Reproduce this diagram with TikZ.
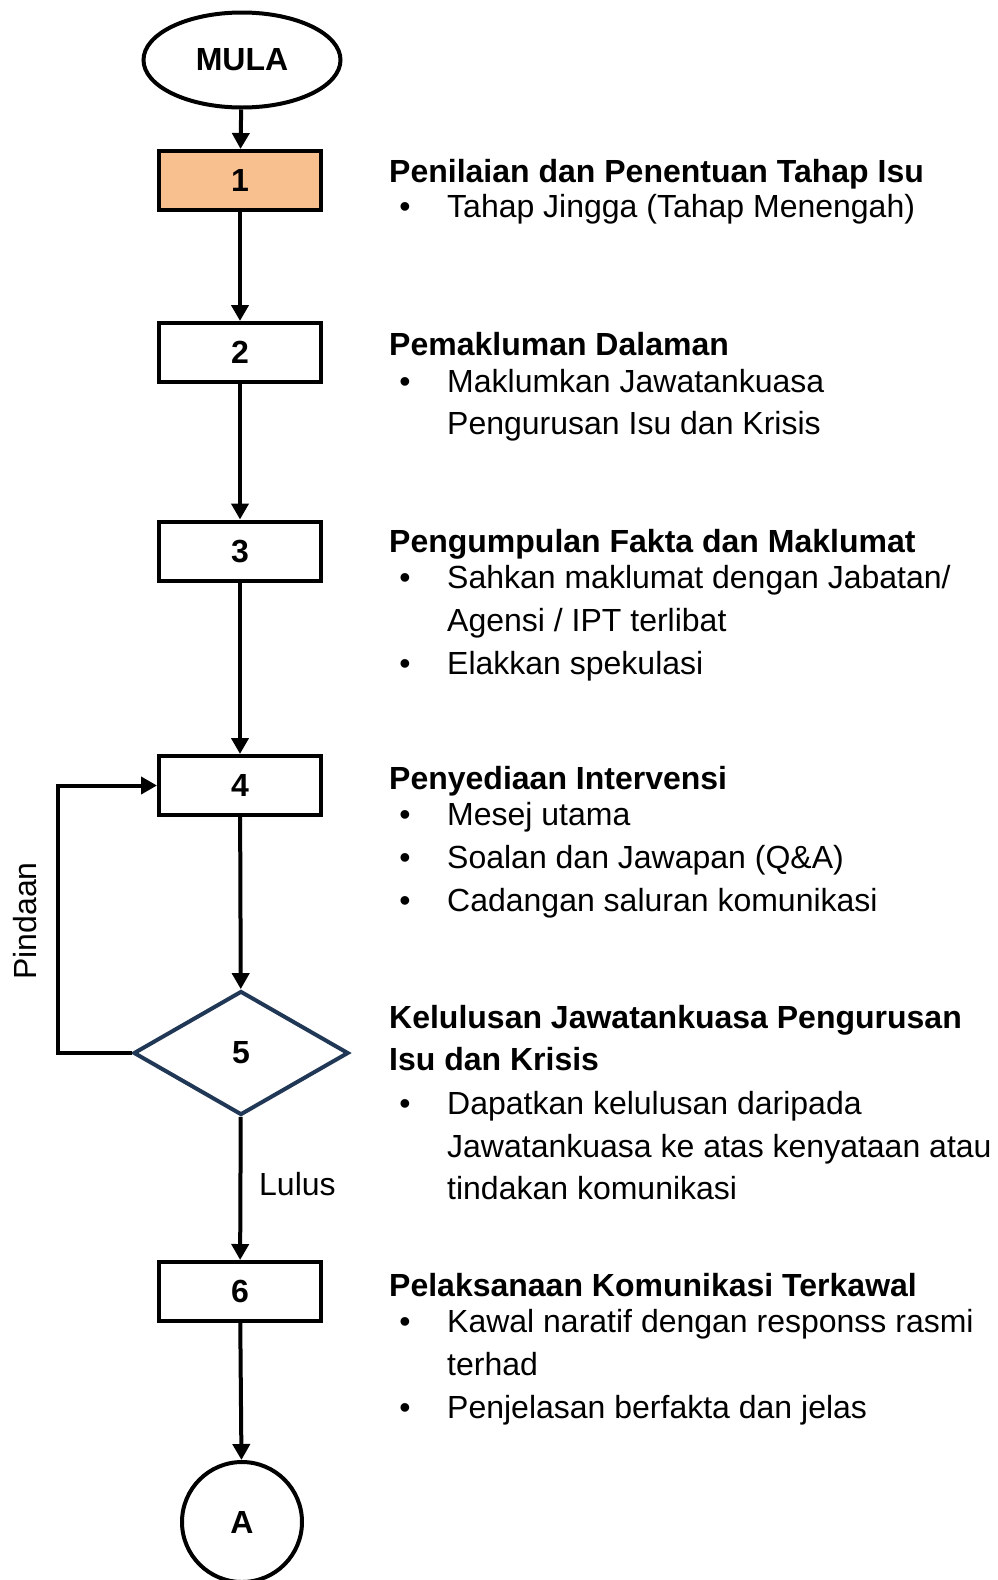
\documentclass[tikz,border=0pt]{standalone}
\usepackage{fontspec}
\setmainfont{Liberation Sans}
\usetikzlibrary{shapes.geometric,arrows.meta}
\definecolor{peach}{RGB}{248,192,143}
\definecolor{navy}{RGB}{32,56,86}
\tikzset{
  base/.style={font=\fontsize{32}{38}\selectfont},
  stepbox/.style={base,draw=black,line width=4pt,minimum width=162pt,minimum height=59pt,inner sep=0pt,font=\fontsize{32}{38}\selectfont\bfseries},
  decbox/.style={base,draw=navy,line width=4pt,shape=diamond,minimum width=215pt,minimum height=124pt,inner sep=0pt,font=\fontsize{32}{38}\selectfont\bfseries},
  term/.style={draw=black,line width=4pt,shape=ellipse,minimum width=197pt,minimum height=95pt,inner sep=0pt,font=\fontsize{32}{38}\selectfont\bfseries},
  conncirc/.style={draw=black,line width=4pt,shape=circle,minimum size=120pt,inner sep=0pt,font=\fontsize{32}{38}\selectfont\bfseries},
  conn/.style={line width=4pt,-{Triangle[length=16pt,width=17pt]}},
  head/.style={anchor=base west,inner sep=0pt,font=\fontsize{32}{38}\selectfont\bfseries},
  itm/.style={anchor=base west,inner sep=0pt,font=\fontsize{32}{38}\selectfont},
  dot/.style={anchor=base,inner sep=0pt,font=\fontsize{32}{38}\selectfont},
}
\begin{document}
\begin{tikzpicture}[x=1pt,y=-1pt]
\useasboundingbox (0,0) rectangle (998,1580);
% flow nodes
\node[term] (mula) at (242,60) {MULA};
\node[stepbox,fill=peach] (s1) at (240,180.5) {1};
\node[stepbox] (s2) at (240,352.5) {2};
\node[stepbox] (s3) at (240,551) {3};
\node[stepbox] (s4) at (240,785.5) {4};
\node[decbox] (s5) at (241,1053) {5};
\node[stepbox] (s6) at (240,1291.5) {6};
\node[conncirc] (a) at (242,1522) {A};
% connectors
\draw[conn] (mula) -- (s1);
\draw[conn] (s1) -- (s2);
\draw[conn] (s2) -- (s3);
\draw[conn] (s3) -- (s4);
\draw[conn] (s4) -- (s5);
\draw[conn] (s5) -- (s6);
\draw[conn] (s6) -- (a);
\coordinate (lb) at (58,1053);
\coordinate (lt) at (58,785.5);
\draw[conn] (s5.west) -- (lb) -- (lt) -- (s4.west);
\node[base,rotate=90,inner sep=0pt] (pindaan) at (25,921) {Pindaan};
\node[itm] (lulus) at (259,1195) {Lulus};
% text blocks
\node[head] (h1) at (389,182) {Penilaian dan Penentuan Tahap Isu};
\node[dot] (d1a) at (405,217) {\textbullet};
\node[itm] (t1a) at (447,217) {Tahap Jingga (Tahap Menengah)};

\node[head] (h2) at (389,355) {Pemakluman Dalaman};
\node[dot] (d2a) at (405,392) {\textbullet};
\node[itm] (t2a) at (447,392) {Maklumkan Jawatankuasa};
\node[itm] (t2b) at (447,434) {Pengurusan Isu dan Krisis};

\node[head] (h3) at (389,552) {Pengumpulan Fakta dan Maklumat};
\node[dot] (d3a) at (405,588) {\textbullet};
\node[itm] (t3a) at (447,588) {Sahkan maklumat dengan Jabatan/};
\node[itm] (t3b) at (447,631) {Agensi / IPT terlibat};
\node[dot] (d3b) at (405,674) {\textbullet};
\node[itm] (t3c) at (447,674) {Elakkan spekulasi};

\node[head] (h4) at (389,789) {Penyediaan Intervensi};
\node[dot] (d4a) at (405,825) {\textbullet};
\node[itm] (t4a) at (447,825) {Mesej utama};
\node[dot] (d4b) at (405,868) {\textbullet};
\node[itm] (t4b) at (447,868) {Soalan dan Jawapan (Q\&A)};
\node[dot] (d4c) at (405,911) {\textbullet};
\node[itm] (t4c) at (447,911) {Cadangan saluran komunikasi};

\node[head] (h5a) at (389,1028) {Kelulusan Jawatankuasa Pengurusan};
\node[head] (h5b) at (389,1070) {Isu dan Krisis};
\node[dot] (d5a) at (405,1114) {\textbullet};
\node[itm] (t5a) at (447,1114) {Dapatkan kelulusan daripada};
\node[itm] (t5b) at (447,1157) {Jawatankuasa ke atas kenyataan atau};
\node[itm] (t5c) at (447,1199) {tindakan komunikasi};

\node[head] (h6) at (389,1296) {Pelaksanaan Komunikasi Terkawal};
\node[dot] (d6a) at (405,1332) {\textbullet};
\node[itm] (t6a) at (447,1332) {Kawal naratif dengan responss rasmi};
\node[itm] (t6b) at (447,1375) {terhad};
\node[dot] (d6b) at (405,1418) {\textbullet};
\node[itm] (t6c) at (447,1418) {Penjelasan berfakta dan jelas};
\end{tikzpicture}
\end{document}
